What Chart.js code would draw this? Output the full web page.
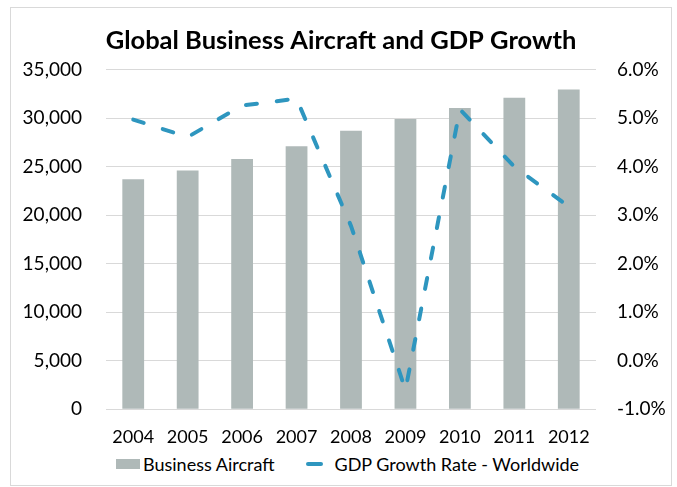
<!DOCTYPE html>
<html>
<head>
<meta charset="utf-8">
<script src="https://cdn.jsdelivr.net/npm/chart.js@4.4.1/dist/chart.umd.min.js"></script>
<style>
  html, body { margin: 0; padding: 0; background: #fff; }
  #card {
    position: absolute; left: 10px; top: 7px;
    width: 662px; height: 479px;
    box-sizing: border-box; border: 1px solid #d9d9d9; background: #fff;
    font-family: Lato, "Open Sans", sans-serif;
  }
  #card canvas { display: block; }
  #legend {
    position: absolute; left: 105px; top: 446px;
    display: flex; align-items: center;
    font-size: 18px; line-height: 20px; color: #000; white-space: nowrap;
  }
  #legend .item { display: flex; align-items: center; }
  #legend .item + .item { margin-left: 31px; }
  #legend .swatch { display: inline-block; }
</style>
</head>
<body>
<div id="card">
  <canvas id="aircraftChart" width="660" height="440"></canvas>
  <div id="legend"></div>
</div>
<script>
  // Fleet size and world GDP growth, 2004-2012
  const years = ["2004", "2005", "2006", "2007", "2008", "2009", "2010", "2011", "2012"];
  const aircraft = [23700, 24600, 25800, 27100, 28700, 29900, 31050, 32100, 32950];
  const gdpGrowth = [4.97, 4.61, 5.26, 5.40, 2.78, -0.6, 5.18, 4.0, 3.18];

  const leftTicks = { min: 0, max: 35000, step: 5000 };
  const rightTicks = { min: -1, max: 6, step: 1 };

  const barColor = '#AFB9B8';
  const lineColor = '#2E96BF';
  const fontFamily = 'Lato, "Open Sans", sans-serif';

  const ctx = document.getElementById('aircraftChart').getContext('2d');

  const chart = new Chart(ctx, {
    data: {
      labels: years,
      datasets: [{
        type: 'line',
        label: 'GDP Growth Rate - Worldwide',
        data: gdpGrowth,
        yAxisID: 'y1',
        borderColor: lineColor,
        borderWidth: 4,
        borderDash: [11, 20],
        borderCapStyle: 'round',
        tension: 0,
        pointRadius: 0,
        fill: false,
        order: 0
      }, {
        type: 'bar',
        label: 'Business Aircraft',
        data: aircraft,
        yAxisID: 'y',
        backgroundColor: barColor,
        categoryPercentage: 1,
        barPercentage: 0.4,
        order: 1
      }]
    },
    options: {
      responsive: false,
      animation: false,
      layout: { padding: { top: 13, bottom: 0, left: 0, right: 0 } },
      plugins: {
        title: {
          display: true,
          text: 'Global Business Aircraft and GDP Growth',
          color: '#000',
          font: { family: fontFamily, size: 25.5, weight: 'bold' },
          padding: { top: 4, bottom: 14 }
        },
        legend: { display: false },
        tooltip: { enabled: false }
      },
      scales: {
        x: {
          grid: { display: false },
          border: { display: false },
          ticks: { color: '#000', font: { family: fontFamily, size: 18 }, padding: 9 },
          afterFit: scale => { scale.height = 38.7; }
        },
        y: {
          position: 'left',
          min: leftTicks.min,
          max: leftTicks.max,
          ticks: {
            stepSize: leftTicks.step,
            color: '#000',
            font: { family: fontFamily, size: 19 },
            padding: 24,
            callback: v => v.toLocaleString('en-US')
          },
          grid: { color: '#D9D9D9', lineWidth: 1, drawTicks: false },
          border: { display: false },
          afterFit: scale => { scale.width = 95; }
        },
        y1: {
          position: 'right',
          min: rightTicks.min,
          max: rightTicks.max,
          ticks: {
            stepSize: rightTicks.step,
            color: '#000',
            font: { family: fontFamily, size: 19 },
            padding: 21,
            callback: v => v.toFixed(1) + '%'
          },
          grid: { display: false, drawTicks: false },
          border: { display: false },
          afterFit: scale => { scale.width = 75; }
        }
      }
    }
  });

  // Legend row below the plot: bar swatch, then a short stroke for the line
  const legend = document.getElementById('legend');
  const swatches = [
    { label: chart.data.datasets[1].label, css: `width:24px;height:10px;background:${barColor};margin-right:3px;` },
    { label: chart.data.datasets[0].label, css: `width:17px;height:4px;border-radius:2px;background:${lineColor};margin-right:12px;` }
  ];
  swatches.forEach(s => {
    const item = document.createElement('span');
    item.className = 'item';
    item.innerHTML = `<span class="swatch" style="${s.css}"></span><span>${s.label}</span>`;
    legend.appendChild(item);
  });
</script>
</body>
</html>
